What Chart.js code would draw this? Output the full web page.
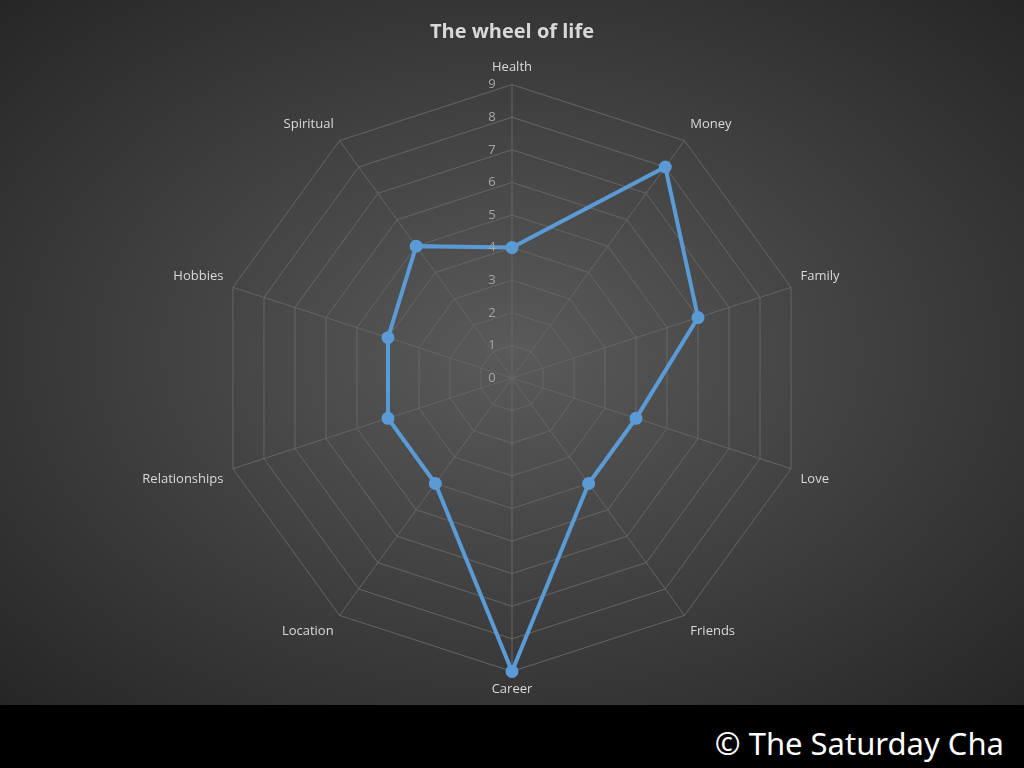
<!DOCTYPE html>
<html>
<head>
<meta charset="utf-8">
<script src="https://cdn.jsdelivr.net/npm/chart.js@4"></script>
<style>
  html, body { margin: 0; padding: 0; background: #000; }
  #wrap {
    position: absolute; left: 0; top: 0; width: 1024px; height: 705px;
    background: radial-gradient(ellipse at 50% 50%, #5a5a5a 0%, #404040 50%, #262626 100%);
  }
  #footer {
    position: absolute; left: 0; top: 705px; width: 1024px; height: 63px; background: #000;
    color: #fff; font-family: "Noto Sans", sans-serif; font-size: 31px;
    text-align: right; line-height: 76px; box-sizing: border-box; padding-right: 20px;
  }
</style>
</head>
<body>
<div id="wrap"><canvas id="c" width="1024" height="705"></canvas></div>
<div id="footer">© The Saturday Cha</div>
<script>
// ---- Data ----
const categories = ["Health", "Money", "Family", "Love", "Friends", "Career",
                    "Location", "Relationships", "Hobbies", "Spiritual"];
const scores = [4, 8, 6, 4, 4, 9, 4, 4, 4, 5];
const scaleMax = 9;

// tick labels sit left of the vertical axis (incl. the "0" Chart.js skips)
const sideTicks = {
  id: "sideTicks",
  afterDraw(chart) {
    const r = chart.scales.r;
    const c = chart.ctx;
    c.save();
    c.fillStyle = "#a6a6a6";
    c.font = "13px 'Open Sans'";
    c.textAlign = "center";
    c.textBaseline = "middle";
    r.ticks.forEach(t => {
      const y = r.yCenter - r.getDistanceFromCenterForValue(t.value);
      c.fillText(String(t.value), r.xCenter - 20, y);
    });
    c.restore();
  }
};

const ctx = document.getElementById("c").getContext("2d");

new Chart(ctx, {
  type: "radar",
  data: {
    labels: categories,
    datasets: [{
      label: "Score",
      data: scores,
      borderColor: "#5b9bd5",
      backgroundColor: "transparent",
      borderWidth: 4,
      pointRadius: 4.5,
      pointBackgroundColor: "#5b9bd5",
      pointBorderColor: "#5b9bd5",
      tension: 0
    }]
  },
  options: {
    responsive: false,
    animation: false,
    layout: { padding: { top: 6, bottom: 7, left: 0, right: 0 } },
    plugins: {
      legend: { display: false },
      title: {
        display: true,
        text: "The wheel of life",
        color: "#d9d9d9",
        font: { family: "Open Sans", size: 20, weight: "bold" },
        padding: { top: 14, bottom: 15 }
      }
    },
    scales: {
      r: {
        min: 0,
        max: scaleMax,
        ticks: { stepSize: 1, display: false },
        grid: { color: "#666666", lineWidth: 1 },
        angleLines: { color: "#666666", lineWidth: 1 },
        pointLabels: {
          color: "#d9d9d9",
          padding: 10,
          font: { family: "Open Sans", size: 13 }
        }
      }
    }
  },
  plugins: [sideTicks]
});
</script>
</body>
</html>
